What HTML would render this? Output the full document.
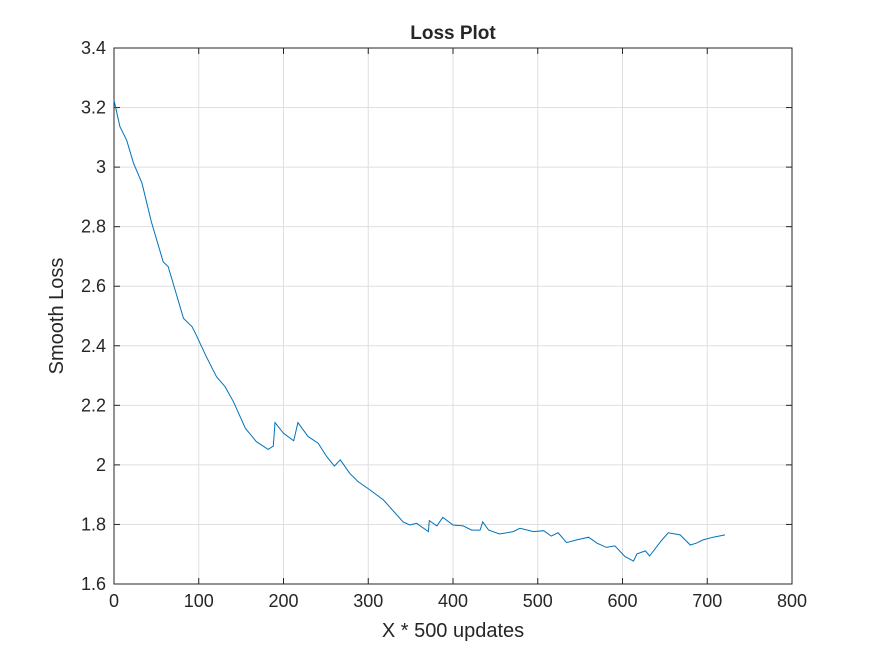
<!DOCTYPE html>
<html><head><meta charset="utf-8"><style>
body{margin:0;background:#fff;}
svg text{font-family:"Liberation Sans",Arial,sans-serif;fill:#262626;}
</style></head><body>
<svg id="chart" width="875" height="656" xmlns="http://www.w3.org/2000/svg">
<rect width="875" height="656" fill="#fff"/>
<g id="grid"></g><g id="axes"></g><g id="series"></g>
<text x="453" y="39" text-anchor="middle" font-size="19" font-weight="bold" fill="#000">Loss Plot</text>
<text x="453" y="637" text-anchor="middle" font-size="20">X * 500 updates</text>
<text transform="translate(63,316) rotate(-90)" text-anchor="middle" font-size="20">Smooth Loss</text>
</svg>
<script>
const xTicks=[0,100,200,300,400,500,600,700,800];
const yTicks=[1.6,1.8,2,2.2,2.4,2.6,2.8,3,3.2,3.4];
const yTickLabels=["1.6","1.8","2","2.2","2.4","2.6","2.8","3","3.2","3.4"];
const stepX=[0,7,15,23,33,44,58,64,82,92,96,109,121,131,141,155,168,182,188,190,200,212,217,229,241,251,260,267,278,288,302,318,341,349,357,371,372,381,388,400,412,422,432,435,442,455,471,479,495,507,516,524,534,546,560,570,581,591,603,613,617,627,632,646,654,668,680,687,695,707,721];
const lossY=[3.225,3.136,3.09,3.013,2.946,2.817,2.682,2.666,2.492,2.464,2.442,2.363,2.296,2.263,2.212,2.123,2.078,2.052,2.063,2.142,2.106,2.081,2.142,2.095,2.073,2.028,1.996,2.017,1.972,1.944,1.916,1.882,1.809,1.798,1.804,1.776,1.813,1.795,1.824,1.798,1.795,1.781,1.781,1.809,1.781,1.768,1.776,1.787,1.776,1.779,1.761,1.772,1.739,1.748,1.757,1.737,1.723,1.728,1.692,1.677,1.701,1.711,1.694,1.746,1.772,1.765,1.731,1.737,1.748,1.757,1.765];
const L=114,R=792,T=48,B=584;
const sx=v=>L+(v-0)/(800-0)*(R-L);
const sy=v=>B-(v-1.6)/(3.4-1.6)*(B-T);
const NS="http://www.w3.org/2000/svg";
function mk(tag,parent,attrs){const e=document.createElementNS(NS,tag);for(const k in attrs)e.setAttribute(k,attrs[k]);parent.appendChild(e);return e;}
const grid=document.getElementById('grid'),axes=document.getElementById('axes'),series=document.getElementById('series');
xTicks.forEach(t=>{
 const g=mk('line',grid,{x1:sx(t),x2:sx(t),y1:T,y2:B,stroke:'#dfdfdf','stroke-width':1});
 
 
 mk('line',axes,{x1:sx(t),x2:sx(t),y1:B,y2:B-6,stroke:'#262626'});
 mk('line',axes,{x1:sx(t),x2:sx(t),y1:T,y2:T+6,stroke:'#262626'});
 const tx=mk('text',axes,{x:sx(t),y:B+23,'text-anchor':'middle','font-size':18});
 tx.textContent=t;
 
 
});
yTicks.forEach((t,i)=>{
 const g=mk('line',grid,{x1:L,x2:R,y1:sy(t),y2:sy(t),stroke:'#dfdfdf','stroke-width':1});
 
 
 mk('line',axes,{x1:L,x2:L+6,y1:sy(t),y2:sy(t),stroke:'#262626'});
 mk('line',axes,{x1:R,x2:R-6,y1:sy(t),y2:sy(t),stroke:'#262626'});
 const tx=mk('text',axes,{x:L-8,y:sy(t)+6,'text-anchor':'end','font-size':18});
 tx.textContent=yTickLabels[i];
 
 
});
const box=mk('rect',axes,{x:L,y:T,width:R-L,height:B-T,fill:'none',stroke:'#262626','stroke-width':1});


const d=stepX.map((x,i)=>(i?'L':'M')+sx(x).toFixed(1)+','+sy(lossY[i]).toFixed(1)).join(' ');
const p=mk('path',series,{d:d,fill:'none',stroke:'#0072bd','stroke-width':1});


</script>
</body></html>
